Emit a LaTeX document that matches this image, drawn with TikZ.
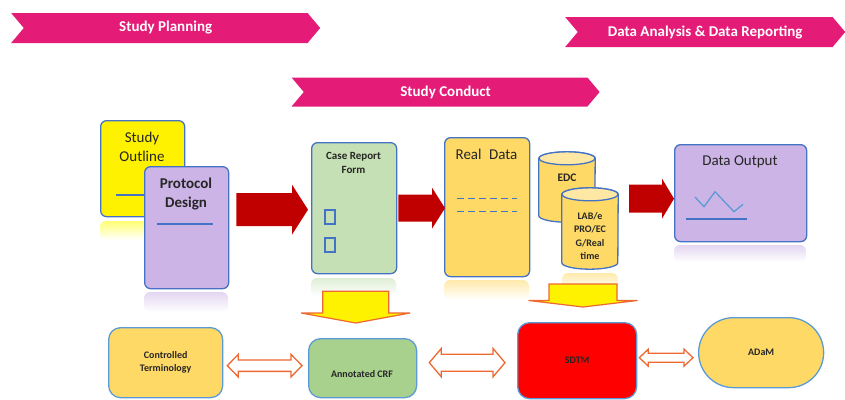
\documentclass[tikz,border=0pt]{standalone}
\usepackage{fontspec}
\setmainfont{Carlito}
\usetikzlibrary{shapes.symbols,calc}

\definecolor{stagepink}{RGB}{228,27,119}
\definecolor{boxblue}{RGB}{68,114,196}
\definecolor{lineblue}{RGB}{91,155,213}
\definecolor{protolilac}{RGB}{204,180,230}
\definecolor{crfgreen}{RGB}{197,224,180}
\definecolor{acrfgreen}{RGB}{169,209,142}
\definecolor{datagold}{RGB}{255,217,102}
\definecolor{flowred}{RGB}{192,0,0}
\definecolor{arrorange}{RGB}{237,105,49}

% block arrows: style, tail, tip, half body, half head, head length
\newcommand{\rightblock}[6]{%
  \path[#1] ($(#2)+(0,-#4)$) -- ($(#3)+(-#6,-#4)$) -- ($(#3)+(-#6,-#5)$) -- (#3)
    -- ($(#3)+(-#6,#5)$) -- ($(#3)+(-#6,#4)$) -- ($(#2)+(0,#4)$) -- cycle;}
\newcommand{\downblock}[6]{%
  \path[#1] ($(#2)+(-#4,0)$) -- ($(#3)+(-#4,-#6)$) -- ($(#3)+(-#5,-#6)$) -- (#3)
    -- ($(#3)+(#5,-#6)$) -- ($(#3)+(#4,-#6)$) -- ($(#2)+(#4,0)$) -- cycle;}
\newcommand{\bothblock}[6]{%
  \path[#1] (#2) -- ($(#2)+(#6,-#5)$) -- ($(#2)+(#6,-#4)$) -- ($(#3)+(-#6,-#4)$)
    -- ($(#3)+(-#6,-#5)$) -- (#3) -- ($(#3)+(-#6,#5)$) -- ($(#3)+(-#6,#4)$)
    -- ($(#2)+(#6,#4)$) -- ($(#2)+(#6,#5)$) -- cycle;}
% drum around a node
\newcommand{\drum}[1]{%
  \path[drumbody] ($(#1.north west)+(0,6.5)$) -- ($(#1.south west)+(0,-6.5)$)
    arc[start angle=180, end angle=360, x radius=28pt, y radius=6.5pt]
    -- ($(#1.north east)+(0,6.5)$)
    arc[start angle=0, end angle=180, x radius=28pt, y radius=6.5pt] -- cycle;
  \path[drumtop] ($(#1.north)+(0,6.5)$) ellipse [x radius=28pt, y radius=6.5pt];}

\begin{document}
\begin{tikzpicture}[x=1pt,y=-1pt,
  stage/.style={signal, signal from=west, signal to=east, signal pointer angle=100,
    fill=stagepink, text=white, font=\bfseries\fontsize{15}{18}\selectfont,
    minimum height=30, inner sep=0, anchor=west},
  card/.style={draw=boxblue, line width=1.3, rounded corners=6, inner sep=0, anchor=north west},
  pad/.style={draw=lineblue, line width=1.3, rounded corners=12, inner sep=0, anchor=north west,
    font=\bfseries\fontsize{10}{13}\selectfont, text=black!85, align=center},
  heading/.style={font=\fontsize{15}{19}\selectfont, text=black!85, align=center,
    inner sep=0, anchor=north},
  barrel/.style={minimum width=56, inner sep=0},
  drumbody/.style={fill=datagold, draw=boxblue, line width=1.3},
  drumtop/.style={fill=datagold!60!white, draw=boxblue, line width=1.3},
  sheen/.style={rounded corners=6, top color=#1!55!white, bottom color=white},
  inkline/.style={draw=boxblue, line width=1.2},
  redflow/.style={fill=flowred},
  feed/.style={fill=yellow, draw=arrorange, line width=1.2},
  link/.style={fill=white, draw=arrorange, line width=1.3}]

\useasboundingbox (0,0) rectangle (845,399);

% phases
\node [stage, minimum width=309] (plan) at (23.5,28) {Study Planning};
\node [stage, minimum width=280] (report) at (577.5,32) {Data Analysis \& Data Reporting};
\node [stage, minimum width=308, minimum height=29] (conduct) at (303.5,92) {Study Conduct};

% reflections under the cards
\path [sheen=yellow] (100,221) rectangle (184,240);
\path [sheen=protolilac] (144,292) rectangle (228,312);
\path [sheen=crfgreen] (311,278) rectangle (396,296);
\path [sheen=datagold] (444,280) rectangle (529,300);
\path [sheen=datagold] (562,273) rectangle (618,290);
\path [sheen=protolilac] (674,245) rectangle (806,262);

% planning
\node [card, fill=yellow, minimum width=84, minimum height=96] (so) at (100,120) {};
\node [heading] (sot) at (142,131.5) {Study\\Outline};
\draw [inkline] (116,195) -- (145,195);
\node [card, fill=protolilac, minimum width=84, minimum height=122] (pd) at (144,166) {};
\node [heading, font=\bfseries\fontsize{15}{19}\selectfont] (pdt) at (186,177.5) {Protocol\\Design};
\draw [inkline] (157,224) -- (213,224);

% conduct
\node [card, fill=crfgreen, minimum width=85, minimum height=131] (crf) at (311,142) {};
\node [heading, font=\bfseries\fontsize{11}{14.5}\selectfont] (crft) at (353.5,152) {Case Report\\Form};
\draw [inkline] (325,210) rectangle (335,224) (325,238) rectangle (335,252);

\node [card, fill=datagold, minimum width=85, minimum height=139] (rd) at (444,137) {};
\node [heading] (rdt) at (486.5,148.5) {Real\enspace Data};
\draw [inkline, dash pattern=on 7pt off 4pt] (457,198.3) -- (517,198.3) (457,211.7) -- (517,211.7);

\node [barrel, minimum height=70] (edc) at (567,187) {};
\drum{edc}
\node [font=\bfseries\fontsize{11.5}{14}\selectfont, text=black!85] (edct) at (567,178) {EDC};
\node [barrel, minimum height=81] (lab) at (590,228.5) {};
\drum{lab}
\node [font=\bfseries\fontsize{10}{13.5}\selectfont, text=black!85, align=center, inner sep=0]
  (labt) at (590,236) {LAB/e\\PRO/EC\\G/Real\\time};

% reporting
\node [card, fill=protolilac, minimum width=132, minimum height=97] (out) at (674,144) {};
\node [heading] (outt) at (740,155.5) {Data Output};
\draw [lineblue, line width=1.3] (695,197) -- (704,206.7) -- (715,191.7) -- (734,211.7) -- (743,204.3);
\draw [inkline] (686,219) -- (747,219);

% standards
\node [pad, fill=datagold, minimum width=114, minimum height=70] (ct) at (108,327) {Controlled\\Terminology};
\node [pad, fill=acrfgreen, minimum width=108, minimum height=59] (acrf) at (308,338) {};
\node [font=\bfseries\fontsize{10}{13}\selectfont, text=black!85] (acrft) at (362,374) {Annotated CRF};
\node [pad, fill=red, minimum width=119, minimum height=76] (sdtm) at (517,322) {SDTM};
\node [pad, fill=datagold, minimum width=125, minimum height=70, rounded corners=35] (adam) at (698,317) {ADaM};

% flow arrows
\coordinate (r1a) at ($(pd.east |- crf.west)+(7,1.5)$);
\coordinate (r1b) at ($(crf.west)+(-3,1.5)$);
\rightblock{redflow}{r1a}{r1b}{16.5}{25}{16}
\coordinate (r2a) at ($(crf.east)+(1,0)$);
\coordinate (r2b) at ($(crf.east -| rd.west)+(1,0)$);
\rightblock{redflow}{r2a}{r2b}{13.5}{20.5}{13}
\coordinate (r3b) at ($(out.west)+(0,5.5)$);
\coordinate (r3a) at ($(lab.center |- r3b)+(39,0)$);
\rightblock{redflow}{r3a}{r3b}{14}{20}{12}

\coordinate (y1a) at ($(crf.south)+(1.5,17)$);
\coordinate (y1b) at ($(crf.south |- acrf.north)+(1.5,-15)$);
\downblock{feed}{y1a}{y1b}{33}{54.5}{10}
\coordinate (y2a) at ($(lab.center)+(-7,55.5)$);
\coordinate (y2b) at ($(lab.center |- sdtm.north)+(-7,-15)$);
\downblock{feed}{y2a}{y2b}{34}{54.5}{6.5}

\coordinate (d1a) at ($(ct.east)+(4,3)$);
\coordinate (d1b) at ($(acrf.west |- d1a)+(-6,0)$);
\bothblock{link}{d1a}{d1b}{5.7}{11.3}{11}
\coordinate (d2a) at ($(acrf.east)+(12,-5.5)$);
\coordinate (d2b) at ($(sdtm.west |- d2a)+(-12,0)$);
\bothblock{link}{d2a}{d2b}{8.5}{14.2}{12}
\coordinate (d3a) at ($(sdtm.east)+(2,-3)$);
\coordinate (d3b) at ($(adam.west |- d3a)+(-5,0)$);
\bothblock{link}{d3a}{d3b}{4.5}{8.5}{9}

\end{tikzpicture}
\end{document}
